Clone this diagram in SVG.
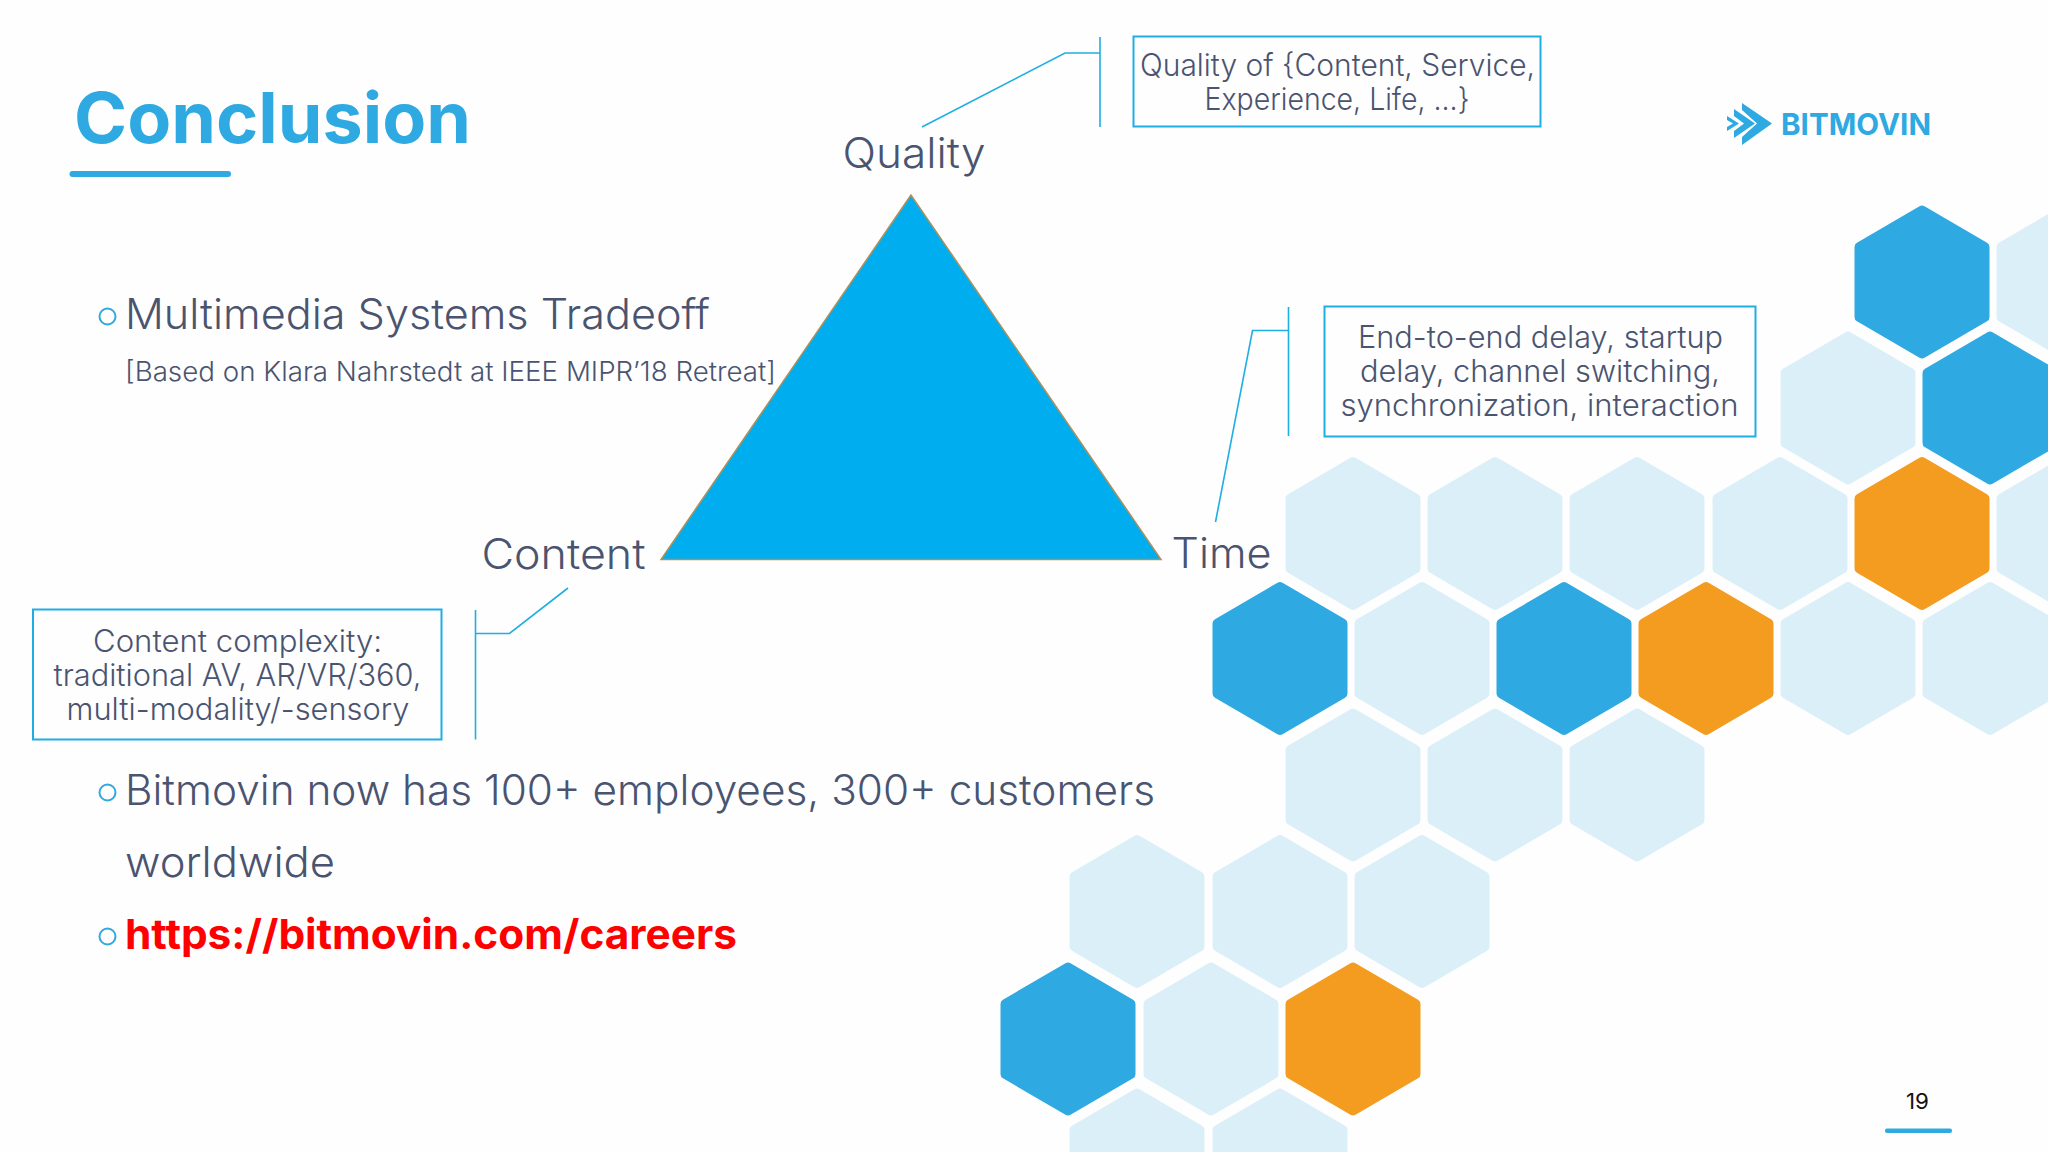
<svg xmlns="http://www.w3.org/2000/svg" xmlns:xlink="http://www.w3.org/1999/xlink" width="2048" height="1152" viewBox="0 0 2048 1152">
<style>
text{font-family:"Inter","Liberation Sans",sans-serif;fill:#4A5470;font-weight:300}
.lg{font-size:42px}.md{font-size:30.5px}.sm{font-size:27px}
.box{fill:none;stroke:#1FAEE3;stroke-width:2}
.con{fill:none;stroke:#1FAEE3;stroke-width:1.6}
.bul{fill:none;stroke:#2EA9E1;stroke-width:2}
.d{fill:#2EA9E1;stroke:#2EA9E1}.l{fill:#DBEFF9;stroke:#DBEFF9}.o{fill:#F39C1F;stroke:#F39C1F}
.h{stroke-width:10;stroke-linejoin:round}
.acc{fill:#2EA9E1}
</style>
<defs><polygon id="hex" points="0,-71.5 62.5,-35 62.5,35 0,71.5 -62.5,35 -62.5,-35"/></defs>
<rect width="2048" height="1152" fill="#FEFEFE"/>
<g id="hexagons" class="h">
<use href="#hex" class="d" x="1922" y="282"/><use href="#hex" class="l" x="2064" y="282"/>
<use href="#hex" class="l" x="1848" y="408"/><use href="#hex" class="d" x="1990" y="408"/>
<use href="#hex" class="l" x="1353" y="533.5"/><use href="#hex" class="l" x="1495" y="533.5"/><use href="#hex" class="l" x="1637" y="533.5"/><use href="#hex" class="l" x="1780" y="533.5"/><use href="#hex" class="o" x="1922" y="533.5"/><use href="#hex" class="l" x="2064" y="533.5"/>
<use href="#hex" class="d" x="1280" y="658.5"/><use href="#hex" class="l" x="1422" y="658.5"/><use href="#hex" class="d" x="1564" y="658.5"/><use href="#hex" class="o" x="1706" y="658.5"/><use href="#hex" class="l" x="1848" y="658.5"/><use href="#hex" class="l" x="1990" y="658.5"/>
<use href="#hex" class="l" x="1353" y="785"/><use href="#hex" class="l" x="1495" y="785"/><use href="#hex" class="l" x="1637" y="785"/>
<use href="#hex" class="l" x="1137" y="911.5"/><use href="#hex" class="l" x="1280" y="911.5"/><use href="#hex" class="l" x="1422" y="911.5"/>
<use href="#hex" class="d" x="1068" y="1039"/><use href="#hex" class="l" x="1211" y="1039"/><use href="#hex" class="o" x="1353" y="1039"/>
<use href="#hex" class="l" x="1137" y="1165"/><use href="#hex" class="l" x="1280" y="1165"/>
</g>
<g id="title">
<text x="74" y="143" style="font-size:70px;font-weight:700;fill:#2EA9E1" textLength="397" lengthAdjust="spacingAndGlyphs">Conclusion</text>
<rect class="acc" x="69.5" y="171" width="161.5" height="6" rx="3"/>
</g>
<g id="logo" class="acc">
<polygon points="1742,103 1772,123.5 1742,145 1742,137 1757,123.5 1742,110"/>
<polygon points="1734,109 1755,123.5 1734,138 1734,131 1744,123.5 1734,116"/>
<polygon points="1727,116 1739,123.5 1727,131 1727,127 1733,123.5 1727,120"/>
<text x="1781" y="134.5" style="font-size:30px;font-weight:700;fill:#2EA9E1" textLength="150" lengthAdjust="spacingAndGlyphs">BITMOVIN</text>
</g>
<g id="bullets">
<circle class="bul" cx="107.5" cy="316.5" r="8"/><circle class="bul" cx="107.5" cy="792.5" r="8"/><circle class="bul" cx="107.5" cy="936.5" r="8"/>
<text class="lg" x="125" y="329" textLength="585" lengthAdjust="spacingAndGlyphs">Multimedia Systems Tradeoff</text>
<text class="sm" x="125" y="380.5" textLength="651" lengthAdjust="spacingAndGlyphs">[Based on Klara Nahrstedt at IEEE MIPR’18 Retreat]</text>
<text class="lg" x="125" y="805" textLength="1030" lengthAdjust="spacingAndGlyphs">Bitmovin now has 100+ employees, 300+ customers</text>
<text class="lg" x="125" y="876.5" textLength="210" lengthAdjust="spacingAndGlyphs">worldwide</text>
<text x="125" y="948.5" style="font-size:41px;font-weight:700;fill:#FF0000" textLength="612" lengthAdjust="spacingAndGlyphs">https://bitmovin.com/careers</text>
</g>
<g id="triangle"><polygon points="911,195 661,559.5 1161,559.5" fill="#00AEEF" stroke="#B0905A" stroke-width="1.5"/></g>
<g id="connectors">
<path class="con" d="M922,127 L1065,53 H1100 M1100,37 V127"/>
<path class="con" d="M1215.5,522 L1252.5,330.5 H1288.5 M1288.5,307 V436"/>
<path class="con" d="M568,588 L509.5,633.5 H475.5 M475.5,610 V739.5"/>
</g>
<g id="quality"><text class="lg" x="842.5" y="168" textLength="143" lengthAdjust="spacingAndGlyphs">Quality</text></g>
<g id="content"><text class="lg" x="481.5" y="569" textLength="164" lengthAdjust="spacingAndGlyphs">Content</text></g>
<g id="time"><text class="lg" x="1171.5" y="568" textLength="100" lengthAdjust="spacingAndGlyphs">Time</text></g>
<g id="quality-note">
<rect class="box" x="1133.5" y="36.5" width="407" height="90"/>
<text class="md" x="1140" y="75.5" textLength="395" lengthAdjust="spacingAndGlyphs">Quality of {Content, Service,</text>
<text class="md" x="1204.5" y="109.5" textLength="265" lengthAdjust="spacingAndGlyphs">Experience, Life, ...}</text>
</g>
<g id="time-note">
<rect class="box" x="1324.5" y="306.5" width="431" height="130"/>
<text class="md" x="1358" y="347.5" textLength="365" lengthAdjust="spacingAndGlyphs">End-to-end delay, startup</text>
<text class="md" x="1360" y="381.5" textLength="360" lengthAdjust="spacingAndGlyphs">delay, channel switching,</text>
<text class="md" x="1340.5" y="415.5" textLength="398" lengthAdjust="spacingAndGlyphs">synchronization, interaction</text>
</g>
<g id="content-note">
<rect class="box" x="33" y="609.5" width="408.5" height="130"/>
<text class="md" x="93" y="651.5" textLength="289" lengthAdjust="spacingAndGlyphs">Content complexity:</text>
<text class="md" x="53.5" y="685.5" textLength="368" lengthAdjust="spacingAndGlyphs">traditional AV, AR/VR/360,</text>
<text class="md" x="66.5" y="719.5" textLength="343" lengthAdjust="spacingAndGlyphs">multi-modality/-sensory</text>
</g>
<g id="page">
<text x="1906" y="1108.5" style="font-size:21px;font-weight:400;fill:#111" textLength="23" lengthAdjust="spacingAndGlyphs">19</text>
<rect class="acc" x="1885" y="1128.5" width="67" height="4.5" rx="2"/>
</g>
</svg>
